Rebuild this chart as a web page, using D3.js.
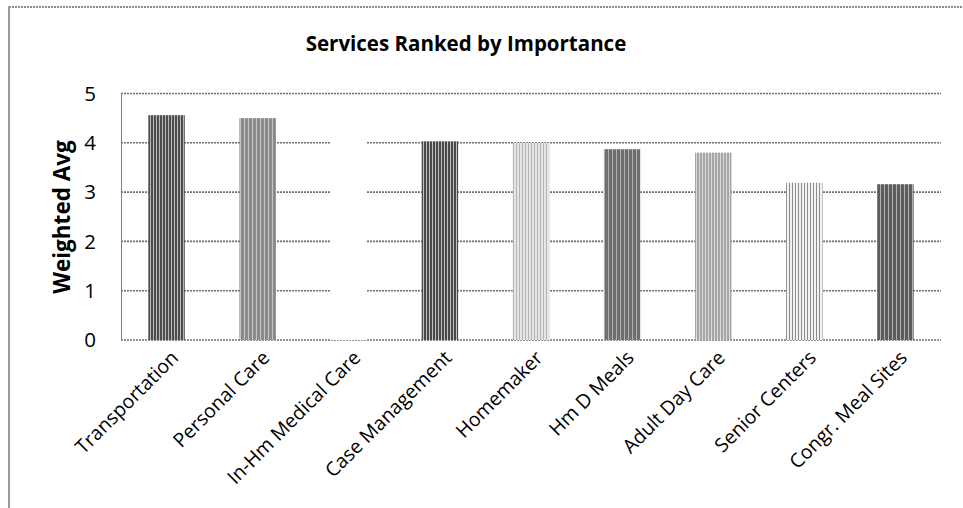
<!DOCTYPE html>
<html>
<head>
<meta charset="utf-8">
<title>Services Ranked by Importance</title>
<script src="https://cdn.jsdelivr.net/npm/d3@7"></script>
<style>
    body { margin: 0; background: #fff; }
    svg { display: block; }
    text { font-family: 'Open Sans', 'DejaVu Sans', sans-serif; fill: #000; }
</style>
</head>
<body>
<svg id="chart" width="963" height="508"></svg>
<script>
// data
var services = ["Transportation", "Personal Care", "In-Hm Medical Care", "Case Management",
    "Homemaker", "Hm D Meals", "Adult Day Care", "Senior Centers", "Congr. Meal Sites"];
var weightedAvg = [4.56, 4.50, 4.30, 4.03, 4.00, 3.87, 3.80, 3.19, 3.16];
var yTicks = [0, 1, 2, 3, 4, 5];

// stripe fills, one per bar: [base colour, line colour, period]
var fills = [
    ["#4d4d4d", "#b8b8b8", 3],
    ["#8a8a8a", "#c4c4c4", 4],
    ["#ffffff", "#ffffff", 4],
    ["#4a4a4a", "#c0c0c0", 3],
    ["#e6e6e6", "#b4b4b4", 3],
    ["#6e6e6e", "#b0b0b0", 4],
    ["#a6a6a6", "#dcdcdc", 3],
    ["#f2f2f2", "#8c8c8c", 3],
    ["#5c5c5c", "#b0b0b0", 4]
];

var svg = d3.select("#chart");
var plot = { left: 121, right: 941, top: 93.5, bottom: 340 };

var x = d3.scaleBand().domain(services).range([plot.left, plot.right]).paddingInner(0.6).paddingOuter(0.3);
var y = d3.scaleLinear().domain([0, 5]).range([plot.bottom, plot.top]);

// outer frame
svg.append("line").attr("x1", 9).attr("x2", 963).attr("y1", 7).attr("y2", 7)
    .attr("stroke", "#8c8c8c").attr("stroke-width", 2).attr("stroke-dasharray", "2,1");
svg.append("line").attr("x1", 9).attr("x2", 9).attr("y1", 6).attr("y2", 508)
    .attr("stroke", "#9a9a9a").attr("stroke-width", 2);

var defs = svg.append("defs");
fills.forEach(function (f, i) {
    var p = defs.append("pattern").attr("id", "fill" + i)
        .attr("patternUnits", "userSpaceOnUse").attr("width", f[2]).attr("height", 4);
    p.append("rect").attr("width", f[2]).attr("height", 4).attr("fill", f[0]);
    p.append("rect").attr("width", 1).attr("height", 4).attr("fill", f[1]);
});

// gridlines
svg.append("g").selectAll("line").data(yTicks).enter().append("line")
    .attr("x1", plot.left).attr("x2", plot.right)
    .attr("y1", function (d) { return y(d); }).attr("y2", function (d) { return y(d); })
    .attr("stroke", "#6f6f6f").attr("stroke-width", 1.6).attr("stroke-dasharray", "2,1");

// y axis line
svg.append("line").attr("x1", plot.left + 0.5).attr("x2", plot.left + 0.5)
    .attr("y1", plot.top).attr("y2", plot.bottom)
    .attr("stroke", "#7f7f7f").attr("stroke-width", 1);

// bars
svg.append("g").selectAll("rect").data(weightedAvg).enter().append("rect")
    .attr("x", function (d, i) { return x(services[i]); })
    .attr("width", x.bandwidth())
    .attr("y", function (d) { return y(d); })
    .attr("height", function (d) { return y(0) - y(d); })
    .attr("fill", function (d, i) { return "url(#fill" + i + ")"; });

// y tick labels
svg.append("g").selectAll("text").data(yTicks).enter().append("text")
    .attr("x", 96).attr("y", function (d) { return y(d); })
    .attr("dy", "0.36em").attr("text-anchor", "end")
    .style("font-size", "20.5px")
    .text(function (d) { return d; });

// x labels
svg.append("g").selectAll("text").data(services).enter().append("text")
    .attr("text-anchor", "end")
    .attr("transform", function (d) {
        return "translate(" + (x(d) + x.bandwidth() / 2 + 13) + "," + (plot.bottom + 19) + ") rotate(-45)";
    })
    .style("font-size", "19.5px")
    .text(function (d) { return d; });

// titles
svg.append("text").attr("x", 466).attr("y", 51).attr("text-anchor", "middle")
    .style("font-size", "20.5px").style("font-weight", "bold")
    .text("Services Ranked by Importance");

svg.append("text").attr("transform", "translate(70,217) rotate(-90)")
    .attr("text-anchor", "middle")
    .style("font-size", "22.5px").style("font-weight", "bold")
    .text("Weighted Avg");
</script>
</body>
</html>
